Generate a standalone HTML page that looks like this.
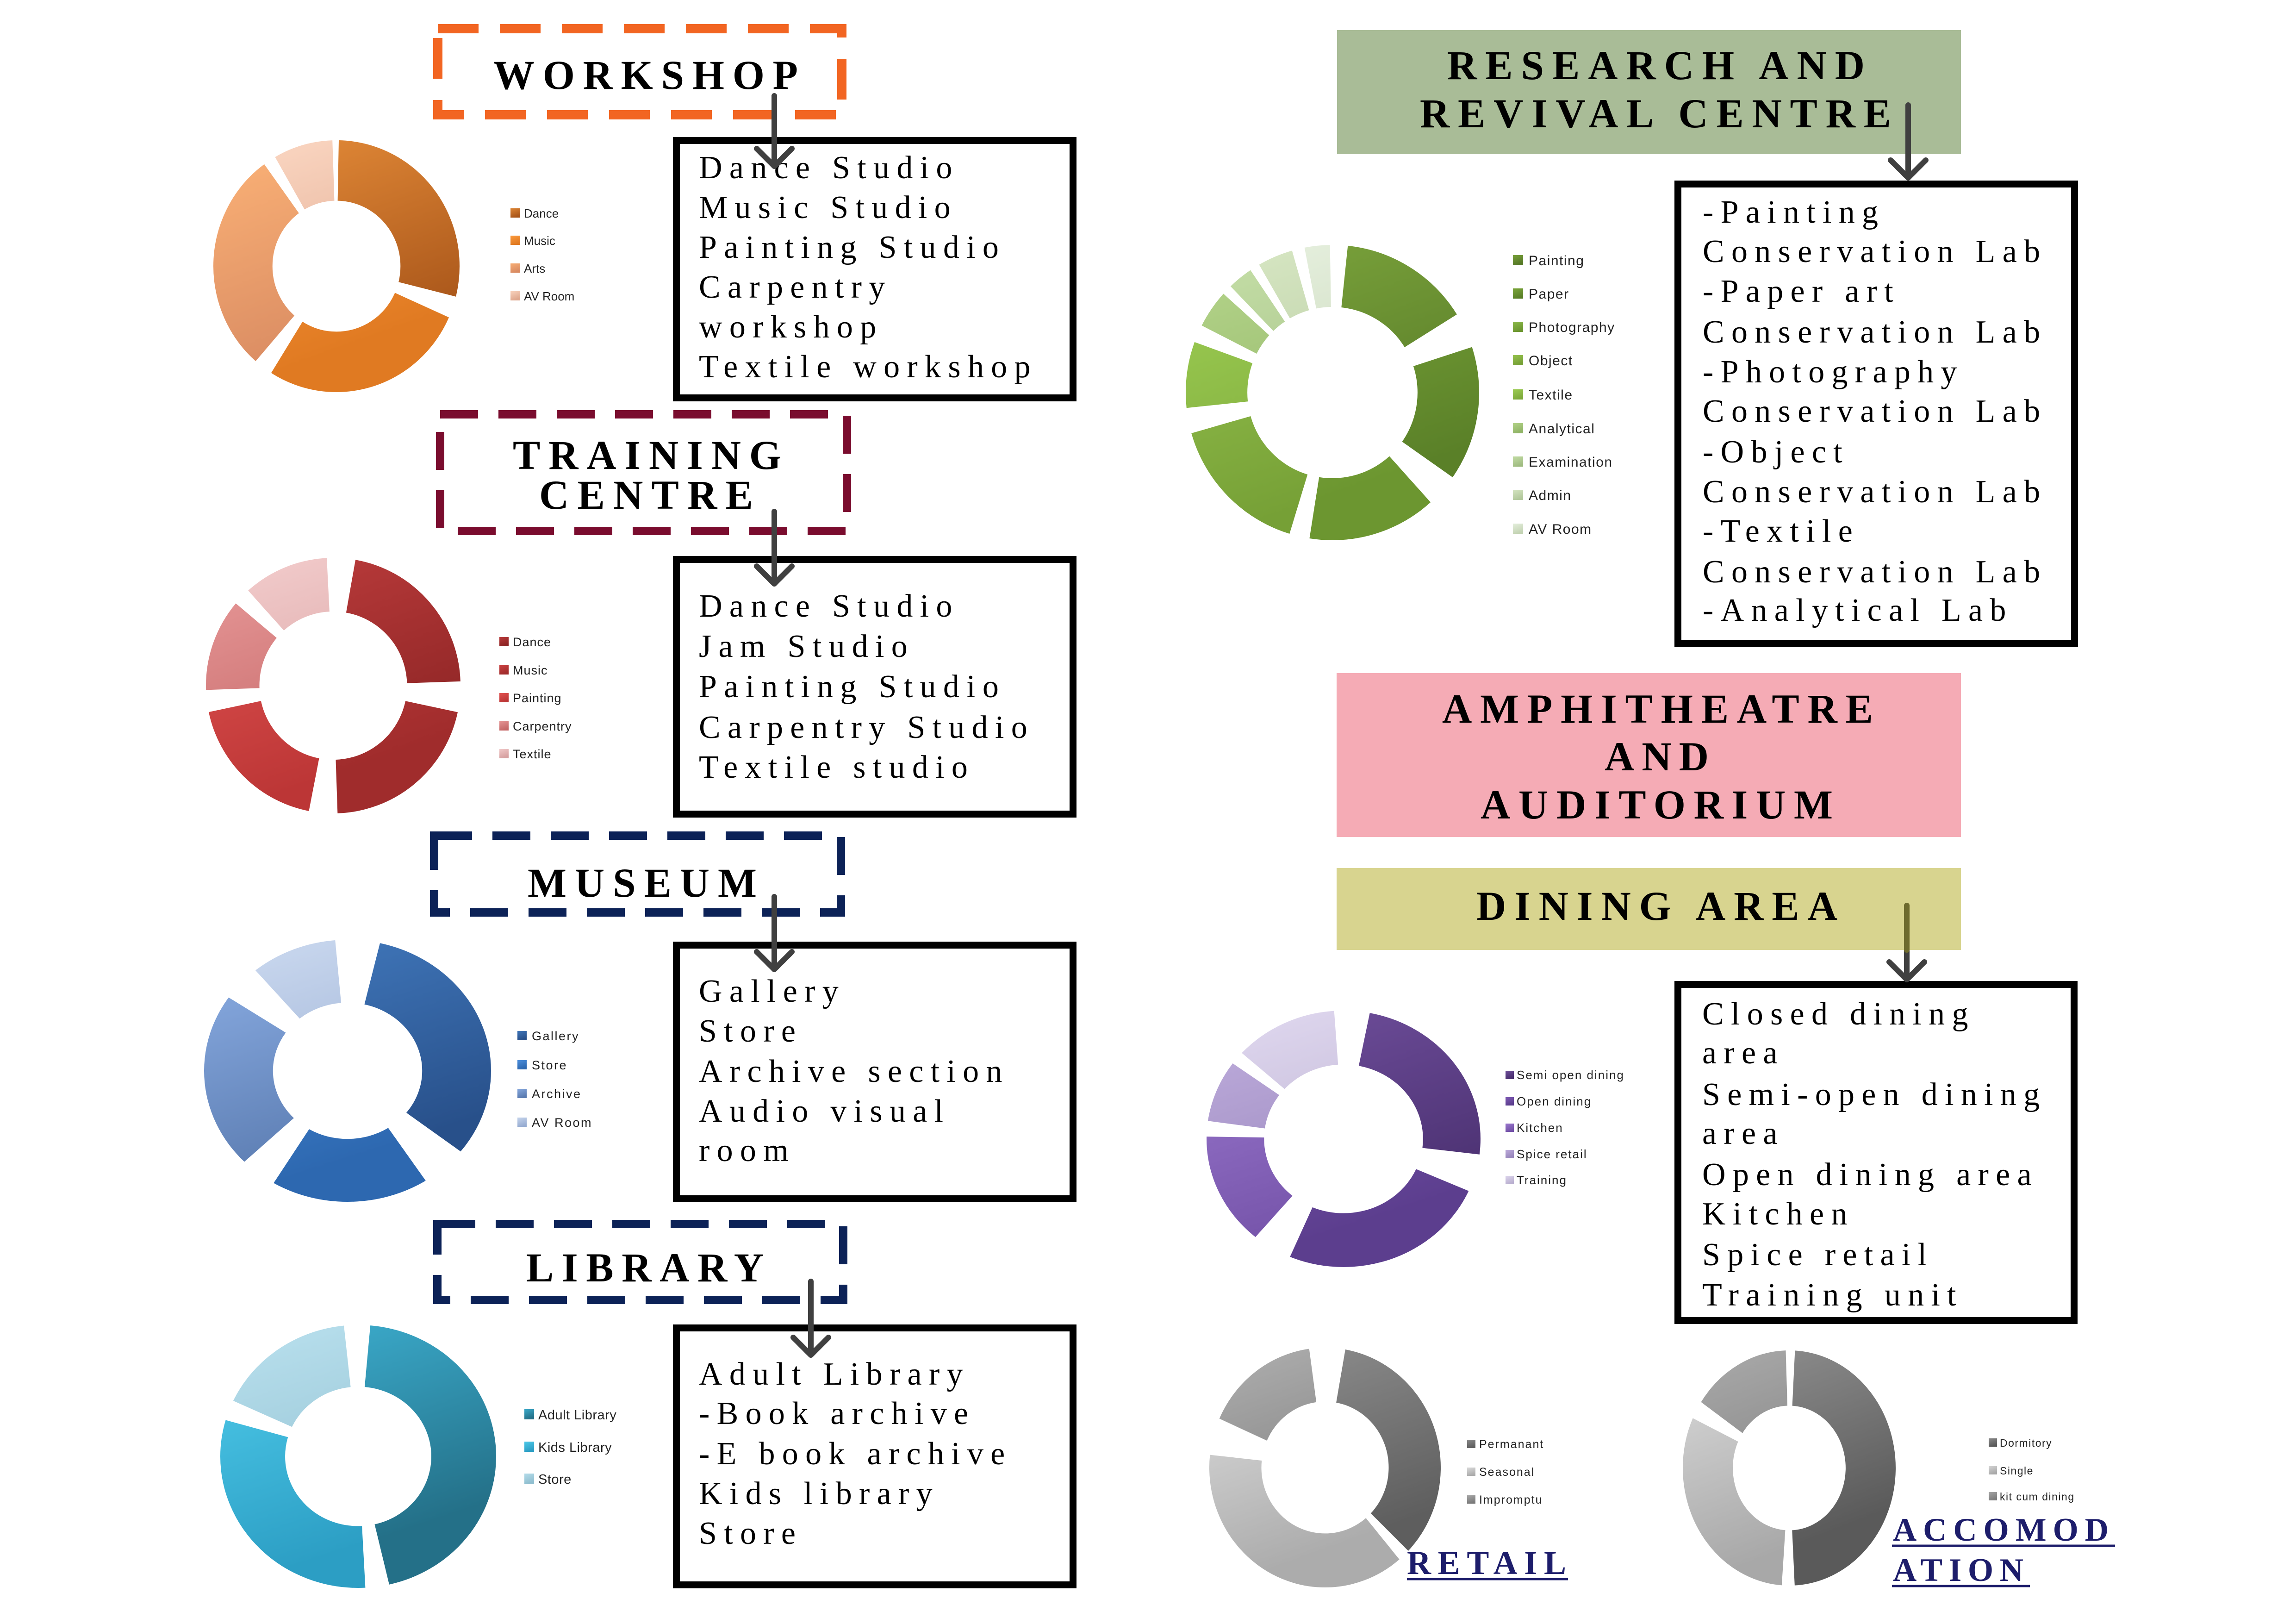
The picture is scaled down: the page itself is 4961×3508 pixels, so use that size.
<!DOCTYPE html>
<html><head><meta charset="utf-8">
<style>
html,body{margin:0;padding:0;background:#fff;}
svg{display:block}
.h{font-family:"Liberation Serif",serif;font-weight:bold;font-size:89px;fill:#000}
.l{font-family:"Liberation Serif",serif;font-size:70px;letter-spacing:15.3px;fill:#000}
.lg{font-family:"Liberation Sans",sans-serif;fill:#222}
</style></head>
<body>
<svg width="4961" height="3508" viewBox="0 0 4961 3508" xmlns="http://www.w3.org/2000/svg">
<defs>
<linearGradient id="o1" x1="0" y1="0" x2="0.35" y2="1"><stop offset="0" stop-color="#dd8535"/><stop offset="1" stop-color="#a9561a"/></linearGradient>
<linearGradient id="o2" x1="0" y1="0" x2="0.35" y2="1"><stop offset="0" stop-color="#fc9a3c"/><stop offset="1" stop-color="#e07a22"/></linearGradient>
<linearGradient id="o3" x1="0" y1="0" x2="0.35" y2="1"><stop offset="0" stop-color="#f7ad74"/><stop offset="1" stop-color="#d98b62"/></linearGradient>
<linearGradient id="o4" x1="0" y1="0" x2="0.35" y2="1"><stop offset="0" stop-color="#f8d2bd"/><stop offset="1" stop-color="#dfa88e"/></linearGradient>

<linearGradient id="r1" x1="0" y1="0" x2="0.35" y2="1"><stop offset="0" stop-color="#b83a3a"/><stop offset="1" stop-color="#8c2424"/></linearGradient>
<linearGradient id="r2" x1="0" y1="0" x2="0.35" y2="1"><stop offset="0" stop-color="#c94040"/><stop offset="1" stop-color="#a02c2c"/></linearGradient>
<linearGradient id="r3" x1="0" y1="0" x2="0.35" y2="1"><stop offset="0" stop-color="#e05250"/><stop offset="1" stop-color="#bc3636"/></linearGradient>
<linearGradient id="r4" x1="0" y1="0" x2="0.35" y2="1"><stop offset="0" stop-color="#e49494"/><stop offset="1" stop-color="#c56868"/></linearGradient>
<linearGradient id="r5" x1="0" y1="0" x2="0.35" y2="1"><stop offset="0" stop-color="#f0c8c8"/><stop offset="1" stop-color="#d6a0a0"/></linearGradient>

<linearGradient id="b1" x1="0" y1="0" x2="0.35" y2="1"><stop offset="0" stop-color="#3f75b8"/><stop offset="1" stop-color="#28508a"/></linearGradient>
<linearGradient id="b2" x1="0" y1="0" x2="0.35" y2="1"><stop offset="0" stop-color="#4d8fdc"/><stop offset="1" stop-color="#2d68b0"/></linearGradient>
<linearGradient id="b3" x1="0" y1="0" x2="0.35" y2="1"><stop offset="0" stop-color="#86a8de"/><stop offset="1" stop-color="#5a7bb0"/></linearGradient>
<linearGradient id="b4" x1="0" y1="0" x2="0.35" y2="1"><stop offset="0" stop-color="#c5d4ec"/><stop offset="1" stop-color="#98add2"/></linearGradient>

<linearGradient id="t1" x1="0" y1="0" x2="0.35" y2="1"><stop offset="0" stop-color="#3aa8c8"/><stop offset="1" stop-color="#247088"/></linearGradient>
<linearGradient id="t2" x1="0" y1="0" x2="0.35" y2="1"><stop offset="0" stop-color="#4cc8e8"/><stop offset="1" stop-color="#2c9ec4"/></linearGradient>
<linearGradient id="t3" x1="0" y1="0" x2="0.35" y2="1"><stop offset="0" stop-color="#b4dcea"/><stop offset="1" stop-color="#90bfd0"/></linearGradient>

<linearGradient id="g1" x1="0" y1="0" x2="0.35" y2="1"><stop offset="0" stop-color="#78a03a"/><stop offset="1" stop-color="#557826"/></linearGradient>
<linearGradient id="g2" x1="0" y1="0" x2="0.35" y2="1"><stop offset="0" stop-color="#7ba63a"/><stop offset="1" stop-color="#5a8028"/></linearGradient>
<linearGradient id="g3" x1="0" y1="0" x2="0.35" y2="1"><stop offset="0" stop-color="#8ab848"/><stop offset="1" stop-color="#6c9630"/></linearGradient>
<linearGradient id="g4" x1="0" y1="0" x2="0.35" y2="1"><stop offset="0" stop-color="#96c24e"/><stop offset="1" stop-color="#76a036"/></linearGradient>
<linearGradient id="g5" x1="0" y1="0" x2="0.35" y2="1"><stop offset="0" stop-color="#9ccc52"/><stop offset="1" stop-color="#7eaa3c"/></linearGradient>
<linearGradient id="g6" x1="0" y1="0" x2="0.35" y2="1"><stop offset="0" stop-color="#b2d288"/><stop offset="1" stop-color="#90b466"/></linearGradient>
<linearGradient id="g7" x1="0" y1="0" x2="0.35" y2="1"><stop offset="0" stop-color="#c2dca4"/><stop offset="1" stop-color="#a0bc82"/></linearGradient>
<linearGradient id="g8" x1="0" y1="0" x2="0.35" y2="1"><stop offset="0" stop-color="#d4e4c0"/><stop offset="1" stop-color="#b2c89c"/></linearGradient>
<linearGradient id="g9" x1="0" y1="0" x2="0.35" y2="1"><stop offset="0" stop-color="#e4eedc"/><stop offset="1" stop-color="#c4d4b4"/></linearGradient>

<linearGradient id="p1" x1="0" y1="0" x2="0.35" y2="1"><stop offset="0" stop-color="#6c4c98"/><stop offset="1" stop-color="#4a3070"/></linearGradient>
<linearGradient id="p2" x1="0" y1="0" x2="0.35" y2="1"><stop offset="0" stop-color="#7e5ab4"/><stop offset="1" stop-color="#5c3e8e"/></linearGradient>
<linearGradient id="p3" x1="0" y1="0" x2="0.35" y2="1"><stop offset="0" stop-color="#9876cc"/><stop offset="1" stop-color="#7452a8"/></linearGradient>
<linearGradient id="p4" x1="0" y1="0" x2="0.35" y2="1"><stop offset="0" stop-color="#bcaada"/><stop offset="1" stop-color="#9886bc"/></linearGradient>
<linearGradient id="p5" x1="0" y1="0" x2="0.35" y2="1"><stop offset="0" stop-color="#dcd4ec"/><stop offset="1" stop-color="#bab0d0"/></linearGradient>

<linearGradient id="s1" x1="0" y1="0" x2="0.35" y2="1"><stop offset="0" stop-color="#8a8a8a"/><stop offset="1" stop-color="#5e5e5e"/></linearGradient>
<linearGradient id="s2" x1="0" y1="0" x2="0.35" y2="1"><stop offset="0" stop-color="#dadada"/><stop offset="1" stop-color="#acacac"/></linearGradient>
<linearGradient id="s3" x1="0" y1="0" x2="0.35" y2="1"><stop offset="0" stop-color="#a8a8a8"/><stop offset="1" stop-color="#7a7a7a"/></linearGradient>

<linearGradient id="a1" x1="0" y1="0" x2="0.35" y2="1"><stop offset="0" stop-color="#8a8a8a"/><stop offset="1" stop-color="#5a5a5a"/></linearGradient>
<linearGradient id="a2" x1="0" y1="0" x2="0.35" y2="1"><stop offset="0" stop-color="#d4d4d4"/><stop offset="1" stop-color="#a8a8a8"/></linearGradient>
<linearGradient id="a3" x1="0" y1="0" x2="0.35" y2="1"><stop offset="0" stop-color="#a4a4a4"/><stop offset="1" stop-color="#7c7c7c"/></linearGradient>
</defs>

<rect x="0" y="0" width="4961" height="3508" fill="#fff"/>

<!-- ===== Colored header boxes (right) ===== -->
<rect x="2889" y="65" width="1348" height="268" fill="#a9bc97"/>
<rect x="2888" y="1454" width="1349" height="354" fill="#f5abb5"/>
<rect x="2888" y="1875" width="1349" height="177" fill="#d8d48f"/>

<!-- ===== Dashed header boxes (left) ===== -->
<rect x="946" y="62" width="873" height="186" fill="none" stroke="#f26522" stroke-width="20" stroke-dasharray="88 46"/>
<rect x="951" y="895" width="879" height="252" fill="none" stroke="#7a0c2e" stroke-width="18" stroke-dasharray="82 44"/>
<rect x="938" y="1805" width="879" height="166" fill="none" stroke="#0c2257" stroke-width="18" stroke-dasharray="82 44"/>
<rect x="945" y="2644" width="877" height="164" fill="none" stroke="#0c2257" stroke-width="18" stroke-dasharray="82 44"/>

<!-- ===== List boxes ===== -->
<g fill="none" stroke="#000" stroke-width="15">
<rect x="1461.5" y="303.5" width="857" height="556"/>
<rect x="1461.5" y="1208.5" width="857" height="550"/>
<rect x="1461.5" y="2041.5" width="857" height="548"/>
<rect x="1461.5" y="2868.5" width="857" height="555"/>
<rect x="3625.5" y="397.5" width="857" height="993"/>
<rect x="3625.5" y="2126.5" width="856" height="726"/>
</g>

<!-- ===== Headings ===== -->
<text class="h" x="1066" y="192" textLength="658" lengthAdjust="spacing">WORKSHOP</text>
<text class="h" x="1108" y="1013" textLength="580" lengthAdjust="spacing">TRAINING</text>
<text class="h" x="1165" y="1099" textLength="462" lengthAdjust="spacing">CENTRE</text>
<text class="h" x="1140" y="1937" textLength="495" lengthAdjust="spacing">MUSEUM</text>
<text class="h" x="1137" y="2768" textLength="513" lengthAdjust="spacing">LIBRARY</text>
<text class="h" x="3127" y="171" textLength="902" lengthAdjust="spacing">RESEARCH AND</text>
<text class="h" x="3068" y="275" textLength="1018" lengthAdjust="spacing">REVIVAL CENTRE</text>
<text class="h" x="3116" y="1561" textLength="931" lengthAdjust="spacing">AMPHITHEATRE</text>
<text class="h" x="3467" y="1664" textLength="225" lengthAdjust="spacing">AND</text>
<text class="h" x="3199" y="1768" textLength="761" lengthAdjust="spacing">AUDITORIUM</text>
<text class="h" x="3190" y="1987" textLength="780" lengthAdjust="spacing">DINING AREA</text>

<text class="h" x="3040" y="3400" textLength="344" lengthAdjust="spacing" style="font-size:72px;fill:#1d1d6b">RETAIL</text>
<text class="h" x="4090" y="3328" textLength="466" lengthAdjust="spacing" style="font-size:71px;fill:#1d1d6b">ACCOMOD</text>
<text class="h" x="4090" y="3415" textLength="282" lengthAdjust="spacing" style="font-size:71px;fill:#1d1d6b">ATION</text>
<g stroke="#1d1d6b" stroke-width="5">
<line x1="3040" y1="3411" x2="3388" y2="3411"/>
<line x1="4088" y1="3339" x2="4570" y2="3339"/>
<line x1="4088" y1="3426" x2="4386" y2="3426"/>
</g>

<!-- ===== List text ===== -->
<text class="l" x="1510" y="385">Dance Studio</text>
<text class="l" x="1510" y="471">Music Studio</text>
<text class="l" x="1510" y="557">Painting Studio</text>
<text class="l" x="1510" y="643">Carpentry</text>
<text class="l" x="1510" y="729">workshop</text>
<text class="l" x="1510" y="815">Textile workshop</text>

<text class="l" x="1510" y="1332">Dance Studio</text>
<text class="l" x="1510" y="1419">Jam Studio</text>
<text class="l" x="1510" y="1506">Painting Studio</text>
<text class="l" x="1510" y="1594">Carpentry Studio</text>
<text class="l" x="1510" y="1680">Textile studio</text>

<text class="l" x="1510" y="2164">Gallery</text>
<text class="l" x="1510" y="2250">Store</text>
<text class="l" x="1510" y="2337">Archive section</text>
<text class="l" x="1510" y="2423">Audio visual</text>
<text class="l" x="1510" y="2508">room</text>

<text class="l" x="1510" y="2991">Adult Library</text>
<text class="l" x="1510" y="3076">-Book archive</text>
<text class="l" x="1510" y="3163">-E book archive</text>
<text class="l" x="1510" y="3249">Kids library</text>
<text class="l" x="1510" y="3335">Store</text>

<text class="l" x="3679" y="481">-Painting</text>
<text class="l" x="3679" y="566">Conservation Lab</text>
<text class="l" x="3679" y="652">-Paper art</text>
<text class="l" x="3679" y="740">Conservation Lab</text>
<text class="l" x="3679" y="826">-Photography</text>
<text class="l" x="3679" y="911">Conservation Lab</text>
<text class="l" x="3679" y="999">-Object</text>
<text class="l" x="3679" y="1085">Conservation Lab</text>
<text class="l" x="3679" y="1170">-Textile</text>
<text class="l" x="3679" y="1258">Conservation Lab</text>
<text class="l" x="3679" y="1341">-Analytical Lab</text>

<text class="l" x="3678" y="2213">Closed dining</text>
<text class="l" x="3678" y="2297">area</text>
<text class="l" x="3678" y="2387">Semi-open dining</text>
<text class="l" x="3678" y="2471">area</text>
<text class="l" x="3678" y="2560">Open dining area</text>
<text class="l" x="3678" y="2645">Kitchen</text>
<text class="l" x="3678" y="2733">Spice retail</text>
<text class="l" x="3678" y="2820">Training unit</text>

<!-- ===== Arrows ===== -->
<g fill="none" stroke="#404040" stroke-width="12" stroke-linecap="round" stroke-linejoin="round">
<path d="M1673 207 V359 M1635 321 L1673 359 L1711 321"/>
<path d="M1673 1105 V1261 M1635 1223 L1673 1261 L1711 1223"/>
<path d="M1673 1937 V2094 M1635 2056 L1673 2094 L1711 2056"/>
<path d="M1752 2768 V2927 M1714 2889 L1752 2927 L1790 2889"/>
<path d="M4123 227 V384 M4085 346 L4123 384 L4161 346"/>
<path d="M4120 2052 V2116 M4082 2078 L4120 2116 L4158 2078"/>
</g>
<path d="M4120 1956 V2052" stroke="#6e6b2e" stroke-width="12" stroke-linecap="round" fill="none"/>

<!-- ===== Donuts ===== -->
<!-- Orange (workshop) -->
<g transform="translate(727 575) scale(3.528 3.608)" fill="none" stroke-width="36.19">
<circle r="57.29578" stroke="url(#o1)" stroke-dasharray="14 257 89 400"/>
<circle r="57.29578" stroke="url(#o2)" stroke-dasharray="0 24 98 400"/>
<circle r="57.29578" stroke="url(#o3)" stroke-dasharray="0 131 103 400"/>
<circle r="57.29578" stroke="url(#o4)" stroke-dasharray="0 240 28 400"/>
</g>
<!-- Red (training) -->
<g transform="translate(720 1481) scale(3.792 3.806)" fill="none" stroke-width="30.46">
<circle r="57.29578" stroke="url(#r1)" stroke-dasharray="0 280 78 400"/>
<circle r="57.29578" stroke="url(#r2)" stroke-dasharray="0 12 76 400"/>
<circle r="57.29578" stroke="url(#r3)" stroke-dasharray="0 101 67 400"/>
<circle r="57.29578" stroke="url(#r4)" stroke-dasharray="0 178 42 400"/>
<circle r="57.29578" stroke="url(#r5)" stroke-dasharray="0 228 39 400"/>
</g>
<!-- Blue (museum) -->
<g transform="translate(751 2313) scale(4.112 3.754)" fill="none" stroke-width="36.19">
<circle r="57.29578" stroke="url(#b1)" stroke-dasharray="38 245 77 400"/>
<circle r="57.29578" stroke="url(#b2)" stroke-dasharray="0 57 64 400"/>
<circle r="57.29578" stroke="url(#b3)" stroke-dasharray="0 136 78 400"/>
<circle r="57.29578" stroke="url(#b4)" stroke-dasharray="0 230 35 400"/>
</g>
<!-- Teal (library) -->
<g transform="translate(774 3146) scale(3.979 3.792)" fill="none" stroke-width="35.20">
<circle r="57.29578" stroke="url(#t1)" stroke-dasharray="77 198 85 400"/>
<circle r="57.29578" stroke="url(#t2)" stroke-dasharray="0 87 109 400"/>
<circle r="57.29578" stroke="url(#t3)" stroke-dasharray="0 205 59 400"/>
</g>
<!-- Green (research) -->
<g transform="translate(2879 848) scale(4.371 4.398)" fill="none" stroke-width="30.46">
<circle r="57.29578" stroke="url(#g1)" stroke-dasharray="0 276 52 400"/>
<circle r="57.29578" stroke="url(#g2)" stroke-dasharray="35 307 18 400"/>
<circle r="57.29578" stroke="url(#g3)" stroke-dasharray="0 48 51 400"/>
<circle r="57.29578" stroke="url(#g4)" stroke-dasharray="0 107 57 400"/>
<circle r="57.29578" stroke="url(#g5)" stroke-dasharray="0 174 26 400"/>
<circle r="57.29578" stroke="url(#g6)" stroke-dasharray="0 207 15 400"/>
<circle r="57.29578" stroke="url(#g7)" stroke-dasharray="0 226 10 400"/>
<circle r="57.29578" stroke="url(#g8)" stroke-dasharray="0 240 14 400"/>
<circle r="57.29578" stroke="url(#g9)" stroke-dasharray="0 259 10 400"/>
</g>
<!-- Purple (dining) -->
<g transform="translate(2903 2460) scale(4.081 3.819)" fill="none" stroke-width="30.46">
<circle r="57.29578" stroke="url(#p1)" stroke-dasharray="7 274 79 400"/>
<circle r="57.29578" stroke="url(#p2)" stroke-dasharray="0 24 89 400"/>
<circle r="57.29578" stroke="url(#p3)" stroke-dasharray="0 130 51 400"/>
<circle r="57.29578" stroke="url(#p4)" stroke-dasharray="0 188 28 400"/>
<circle r="57.29578" stroke="url(#p5)" stroke-dasharray="0 222 44 400"/>
</g>
<!-- Retail (gray) -->
<g transform="translate(2863 3170) scale(3.382 3.503)" fill="none" stroke-width="33.27">
<circle r="57.29578" stroke="url(#s1)" stroke-dasharray="44 236 80 400"/>
<circle r="57.29578" stroke="url(#s2)" stroke-dasharray="0 50 136 400"/>
<circle r="57.29578" stroke="url(#s3)" stroke-dasharray="0 204 58 400"/>
</g>
<!-- Accommodation (gray) -->
<g transform="translate(3866 3171) scale(3.071 3.391)" fill="none" stroke-width="35.20">
<circle r="57.29578" stroke="url(#a1)" stroke-dasharray="87 186 87 400"/>
<circle r="57.29578" stroke="url(#a2)" stroke-dasharray="0 94 111 400"/>
<circle r="57.29578" stroke="url(#a3)" stroke-dasharray="0 214 54 400"/>
</g>

<!-- ===== Legends ===== -->
<!-- Orange -->
<g class="lg" style="font-size:26px">
<rect x="1103" y="450" width="20" height="20" fill="url(#o1)"/><text x="1132" y="470">Dance</text>
<rect x="1103" y="509" width="20" height="20" fill="url(#o2)"/><text x="1132" y="529">Music</text>
<rect x="1103" y="569" width="20" height="20" fill="url(#o3)"/><text x="1132" y="589">Arts</text>
<rect x="1103" y="629" width="20" height="20" fill="url(#o4)"/><text x="1132" y="649">AV Room</text>
</g>
<!-- Red -->
<g class="lg" style="font-size:27px;letter-spacing:1px">
<rect x="1079" y="1376" width="20" height="20" fill="url(#r1)"/><text x="1108" y="1396">Dance</text>
<rect x="1079" y="1437" width="20" height="20" fill="url(#r2)"/><text x="1108" y="1457">Music</text>
<rect x="1079" y="1497" width="20" height="20" fill="url(#r3)"/><text x="1108" y="1517">Painting</text>
<rect x="1079" y="1558" width="20" height="20" fill="url(#r4)"/><text x="1108" y="1578">Carpentry</text>
<rect x="1079" y="1618" width="20" height="20" fill="url(#r5)"/><text x="1108" y="1638">Textile</text>
</g>
<!-- Blue -->
<g class="lg" style="font-size:27px;letter-spacing:2.5px">
<rect x="1118" y="2227" width="20" height="20" fill="url(#b1)"/><text x="1149" y="2247">Gallery</text>
<rect x="1118" y="2290" width="20" height="20" fill="url(#b2)"/><text x="1149" y="2310">Store</text>
<rect x="1118" y="2352" width="20" height="20" fill="url(#b3)"/><text x="1149" y="2372">Archive</text>
<rect x="1118" y="2414" width="20" height="20" fill="url(#b4)"/><text x="1149" y="2434">AV Room</text>
</g>
<!-- Teal -->
<g class="lg" style="font-size:29px;letter-spacing:0.5px">
<rect x="1133" y="3044" width="21" height="22" fill="url(#t1)"/><text x="1163" y="3066">Adult Library</text>
<rect x="1133" y="3114" width="21" height="22" fill="url(#t2)"/><text x="1163" y="3136">Kids Library</text>
<rect x="1133" y="3183" width="21" height="22" fill="url(#t3)"/><text x="1163" y="3205">Store</text>
</g>
<!-- Green -->
<g class="lg" style="font-size:30px;letter-spacing:1.5px">
<rect x="3269" y="551" width="22" height="22" fill="url(#g1)"/><text x="3303" y="573">Painting</text>
<rect x="3269" y="623" width="22" height="22" fill="url(#g2)"/><text x="3303" y="645">Paper</text>
<rect x="3269" y="695" width="22" height="22" fill="url(#g3)"/><text x="3303" y="717">Photography</text>
<rect x="3269" y="767" width="22" height="22" fill="url(#g4)"/><text x="3303" y="789">Object</text>
<rect x="3269" y="841" width="22" height="22" fill="url(#g5)"/><text x="3303" y="863">Textile</text>
<rect x="3269" y="914" width="22" height="22" fill="url(#g6)"/><text x="3303" y="936">Analytical</text>
<rect x="3269" y="986" width="22" height="22" fill="url(#g7)"/><text x="3303" y="1008">Examination</text>
<rect x="3269" y="1058" width="22" height="22" fill="url(#g8)"/><text x="3303" y="1080">Admin</text>
<rect x="3269" y="1131" width="22" height="22" fill="url(#g9)"/><text x="3303" y="1153">AV Room</text>
</g>
<!-- Purple -->
<g class="lg" style="font-size:26px;letter-spacing:2px">
<rect x="3253" y="2313" width="18" height="18" fill="url(#p1)"/><text x="3277" y="2331">Semi open dining</text>
<rect x="3253" y="2370" width="18" height="18" fill="url(#p2)"/><text x="3277" y="2388">Open dining</text>
<rect x="3253" y="2427" width="18" height="18" fill="url(#p3)"/><text x="3277" y="2445">Kitchen</text>
<rect x="3253" y="2484" width="18" height="18" fill="url(#p4)"/><text x="3277" y="2502">Spice retail</text>
<rect x="3253" y="2540" width="18" height="18" fill="url(#p5)"/><text x="3277" y="2558">Training</text>
</g>
<!-- Retail -->
<g class="lg" style="font-size:25px;letter-spacing:2px">
<rect x="3170" y="3110" width="18" height="18" fill="url(#s1)"/><text x="3196" y="3128">Permanant</text>
<rect x="3170" y="3170" width="18" height="18" fill="url(#s2)"/><text x="3196" y="3188">Seasonal</text>
<rect x="3170" y="3230" width="18" height="18" fill="url(#s3)"/><text x="3196" y="3248">Impromptu</text>
</g>
<!-- Accommodation -->
<g class="lg" style="font-size:23px;letter-spacing:1.5px">
<rect x="4297" y="3107" width="18" height="18" fill="url(#a1)"/><text x="4321" y="3125">Dormitory</text>
<rect x="4297" y="3167" width="18" height="18" fill="url(#a2)"/><text x="4321" y="3185">Single</text>
<rect x="4297" y="3223" width="18" height="18" fill="url(#a3)"/><text x="4321" y="3241">kit cum dining</text>
</g>
</svg>
</body></html>
